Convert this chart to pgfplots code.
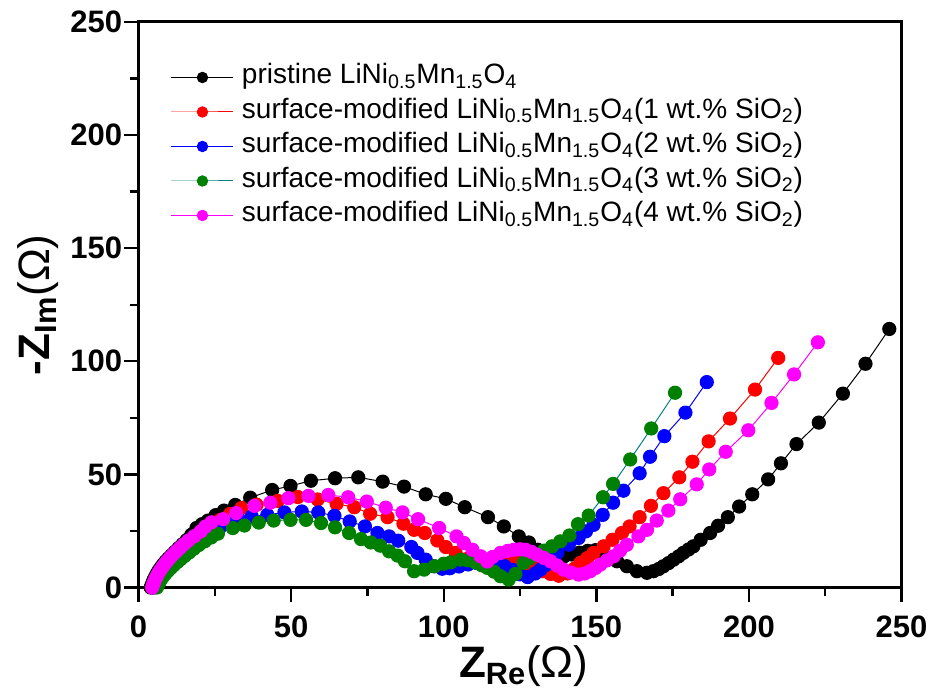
\documentclass[border=0pt]{standalone}
\usepackage{fontspec}
\setmainfont{Liberation Sans}
\usepackage{pgfplots}
\pgfplotsset{compat=1.18}
\definecolor{mgreen}{RGB}{0,128,0}
\definecolor{mteal}{RGB}{0,128,128}
\definecolor{mmag}{RGB}{255,0,255}
\newcommand{\lnmo}{LiNi\textsubscript{0.5}Mn\textsubscript{1.5}O\textsubscript{4}}

\begin{document}
\begin{tikzpicture}
\begin{axis}[
    scale only axis,
    width=381.5pt, height=282.75pt,
    xmin=0, xmax=250, ymin=0, ymax=250,
    xtick={0,50,...,250}, ytick={0,50,...,250},
    minor x tick num=1, minor y tick num=1,
    xtick pos=bottom, ytick pos=left,
    tick align=outside,
    major tick length=7pt, minor tick length=4pt,
    every tick/.style={black, line width=1.2pt},
    axis line style={line width=1.5pt},
    /pgf/number format/assume math mode=true,
    ticklabel style={font=\fontsize{15.5}{18}\selectfont\bfseries, inner sep=1pt},
    xticklabel style={yshift=-6pt},
    xlabel={\textbf{Z}\textsubscript{\textbf{Re}}(Ω)},
    ylabel={\textbf{-Z}\textsubscript{\textbf{Im}}(Ω)},
    xlabel style={font=\fontsize{22}{26}\selectfont, at={(axis description cs:0.505,-0.16)}, anchor=base},
    ylabel style={font=\fontsize{22}{26}\selectfont, at={(axis description cs:-0.116,0.5)}, anchor=base, rotate=0},
    legend style={at={(0.042,0.93)}, anchor=north west, draw=none, fill=none,
        font=\fontsize{14}{16}\selectfont, row sep=1.75pt, inner sep=0pt,
        nodes={inner sep=1pt, anchor=west, text height=10pt, text depth=3.5pt},
        /tikz/every odd column/.append style={column sep=3pt}},
    legend cell align=left,
    legend image code/.code={\draw[mark repeat=2,mark phase=2,#1] plot coordinates {(0pt,0pt) (15.5pt,0pt) (31pt,0pt)};},
    legend image post style={mark size=2.6pt},
    every axis plot/.append style={line width=0.5pt, mark=*, mark size=3.3pt},
]
% pristine
\addplot[black, mark options={fill=black}] coordinates {
(4.0,0) (4.3,1.2) (4.7,2.5) (5.1,3.8) (5.6,5.1) (6.1,6.4) (6.7,7.7) (7.4,9.0)
(8.1,10.3) (8.9,11.6) (9.8,12.9) (10.8,14.3) (11.9,15.8) (13.1,17.4) (14.4,19.1)
(15.8,21) (17.3,23.3) (19.0,26.3) (20.8,28) (22.8,29.6) (25.3,32) (28,34)
(31.7,36.5) (36.6,39.7) (43.8,43.1) (49.8,44.9) (56.5,47.2) (64.4,48.3) (72,48.7)
(80,46.8) (87,44.6) (94.1,41.2) (100.7,39.2) (106.9,35.5) (114.5,31.1) (119.7,27)
(124.6,22.6) (127.9,19.9) (130.8,16.7) (133.5,14.5) (136.5,13.5) (139.5,13.8)
(142,14.6) (144.5,15.4) (147.2,16.2) (149.7,16.5) (153,13.5) (156.8,11.6)
(160,9.4) (163.3,7.2) (166.6,6.5) (168.7,7.2) (170.5,8.2) (172,9.4) (173.7,10.8)
(175.3,12.3) (177,13.8) (178.5,15.3) (180.2,16.8) (181.8,18.2) (184.2,21.1)
(187.3,24.1) (189.9,27.3) (193.1,31.1) (196.8,35.8) (201.1,41.2) (206.3,47.8)
(210.5,54.9) (215.6,63.4) (222.9,72.9) (230.8,85.7) (238.2,98.9) (246,114.3)
};
\addlegendentry{pristine \lnmo}
% 1 wt.%
\addplot[red, mark options={fill=red}] coordinates {
(4.5,0) (4.8,1.2) (5.2,2.5) (5.6,3.8) (6.1,5.1) (6.7,6.4) (7.3,7.7) (8.0,9.0)
(8.8,10.3) (9.7,11.6) (10.7,13) (11.8,14.5) (13.0,16) (14.4,17.6) (15.9,19.3)
(17.5,21) (19.4,23) (21.6,25.2) (24,27.6) (26.7,29.8) (30,32.5) (33.7,35.1)
(38.7,36.6) (45.6,38.3) (52.2,40) (58.7,38.9) (64.9,37) (70.7,35.5) (75.9,32.6)
(81.6,31.1) (86.8,28.2) (90.3,25.5) (93.8,24.1) (97.9,20.8) (100.7,17.9)
(103.9,15.3) (107.2,12.5) (110,11.8) (113,12) (116,12.5) (119,12.8) (122,12.6)
(125,12) (127.5,10.5) (130,8.8) (132.5,7.2) (135,6) (137.7,5.2) (140.5,6.2)
(142.8,8.3) (144.8,10.9) (147,13) (149.1,15.3) (152.4,18.2) (155.3,21.1)
(158.4,24.1) (160.9,27) (164.2,31.1) (167.9,36.1) (172,41.7) (177.2,48.7)
(181.5,55.6) (186.8,64.6) (193.8,74.7) (202,87.5) (209.6,101.5)
};
\addlegendentry{surface-modified \lnmo(1 wt.\% SiO\textsubscript{2})}
% 2 wt.%
\addplot[blue, mark options={fill=blue}] coordinates {
(5,0) (5.3,1.2) (5.7,2.4) (6.2,3.6) (6.7,4.8) (7.3,6) (8,7.2) (8.8,8.5) (9.7,9.8)
(10.7,11.2) (11.8,12.6) (13,14) (14.4,15.6) (15.9,17.2) (17.6,18.9) (19.5,20.6)
(21.6,22.5) (24,24.5) (26.7,26.6) (29.5,28.5) (33,30) (37.1,31.4) (42.2,32.1)
(47.8,33.2) (53.5,33.6) (58.9,33.2) (64.2,31.7) (69.2,29.2) (74.2,27) (78.3,24.1)
(82.1,22.6) (85.1,20.7) (89.4,17.9) (91.4,15.3) (94.1,12.3) (96.8,9.4) (99.5,8.3)
(102,8.5) (105,9.3) (108,10.2) (111,10.8) (114,11) (117,10.5) (120,9.4) (122.5,7.8)
(125,5.8) (127.5,4.6) (130,6.2) (131.7,7.9) (133.5,10) (135.3,12.5) (137.2,15.3)
(141,18.9) (144.2,21.9) (146.6,24.8) (149.1,27.7) (152.1,32.1) (155.5,37.5)
(158.9,42.8) (164.2,50.5) (167.6,57.8) (172.3,66.9) (179.2,77.3) (186.2,90.8)
};
\addlegendentry{surface-modified \lnmo(2 wt.\% SiO\textsubscript{2})}
% 3 wt.%
\addplot[mteal, mark options={fill=mgreen, draw=mgreen}] coordinates {
(6,0) (6.3,1) (6.7,2) (7.1,3) (7.6,4) (8.2,5.1) (8.9,6.2) (9.7,7.4) (10.6,8.6)
(11.6,9.9) (12.7,11.2) (13.9,12.6) (15.2,14) (16.6,15.5) (18.1,17.1) (19.8,18.8)
(21.7,20.4) (23.8,22.1) (26,23.8) (30.9,26.3) (34.7,27.4) (39.4,28.7) (44.3,29.6)
(49.8,29.9) (54.9,29.9) (59.8,28.5) (64.4,26.6) (69,24.1) (72.9,21.4) (76.1,19.9)
(79.2,18.5) (82.1,16) (84.9,14.1) (87.3,11.6) (90.3,7.2) (93.6,7.9) (97,9.4)
(100,10.5) (102.3,11.1) (105.6,12.3) (108,12) (110.5,11) (112.5,9.8) (114.3,8.7)
(116.5,7) (118.6,5) (121.3,3.5) (123.5,6) (126.2,10.9) (128,12.8) (130.1,14.5)
(132.8,16.3) (135.5,18.2) (138.2,20.4) (141.2,23) (144,28) (147.5,31.8)
(152.2,39.9) (155.5,45.8) (161.1,56.6) (168,70.3) (175.8,86.1)
};
\addlegendentry{surface-modified \lnmo(3 wt.\% SiO\textsubscript{2})}
% 4 wt.%
\addplot[mmag, mark options={fill=mmag}] coordinates {
(4.5,0) (4.8,1.3) (5.2,2.6) (5.6,3.9) (6.1,5.2) (6.6,6.5) (7.2,7.8) (7.9,9.1)
(8.6,10.4) (9.4,11.7) (10.3,13.1) (11.3,14.5) (12.4,16) (13.6,17.5) (14.9,19.1)
(16.4,20.8) (18.3,22.7) (20.4,24.8) (22,27) (23.9,28.8) (27.7,30.2) (32,32.9)
(38,36.1) (43.2,37.5) (49.1,39.5) (55.7,40.5) (62.2,40.9) (68.7,39.9) (74.8,38)
(81,35.3) (86.5,33.2) (91.6,30.2) (98.5,26.3) (104.2,22.6) (106.6,19.7)
(109.4,16.7) (112.1,13.8) (114.3,11.5) (116,13.5) (118.6,15.3) (121,16.2)
(123,16.7) (125,16.9) (126.8,16.7) (128.7,15.8) (130.6,14.5) (132.8,13.1)
(135,11.6) (137.2,9.7) (139.3,7.9) (141.7,6.6) (144.2,5.7) (146.2,6.2) (148,7.2)
(149.7,8.6) (151.3,10.1) (153.5,12) (155.7,13.8) (157.8,16.3) (160,18.9)
(163.8,22.6) (166.6,25.5) (169.8,29.6) (173.6,34) (177.5,39) (182.9,45.6)
(187,52.2) (192.4,60) (199.8,69.5) (207.4,81.6) (214.8,94.2) (222.6,108.4)
};
\addlegendentry{surface-modified \lnmo(4 wt.\% SiO\textsubscript{2})}
\end{axis}
\pgfresetboundingbox
\path[use as bounding box] ([shift={(-69.25pt,-53.75pt)}]current axis.south west) rectangle ([shift={(14.25pt,11pt)}]current axis.north east);
\end{tikzpicture}
\end{document}
